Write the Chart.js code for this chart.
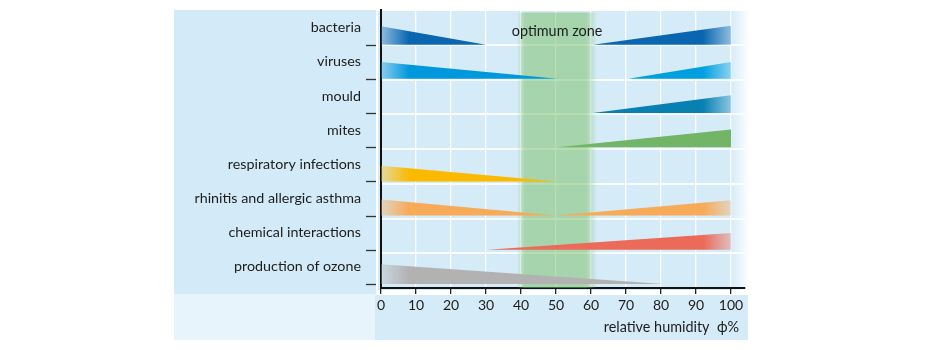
<!DOCTYPE html>
<html>
<head>
<meta charset="utf-8">
<script src="https://cdn.jsdelivr.net/npm/chart.js@4.4.1/dist/chart.umd.min.js"></script>
<style>
  body { margin: 0; background: #fff; }
</style>
</head>
<body>
<canvas id="chart" width="950" height="350"></canvas>
<script>
var rowLabels = [
  'bacteria',
  'viruses',
  'mould',
  'mites',
  'respiratory infections',
  'rhinitis and allergic asthma',
  'chemical interactions',
  'production of ozone'
];
var humidityTicks = [0, 10, 20, 30, 40, 50, 60, 70, 80, 90, 100];
var optimumZone = [40, 60];

// [relative humidity %, size of the effect (share of a row)]
var bacteriaLow = [[0, 0.54], [30, 0]];
var bacteriaHigh = [[60.5, 0], [100, 0.55]];
var virusesLow = [[0, 0.49], [50.4, 0]];
var virusesHigh = [[70.7, 0], [100, 0.49]];
var mouldHigh = [[60.5, 0], [100, 0.52]];
var mitesHigh = [[50.4, 0], [100, 0.52]];
var respiratoryLow = [[0, 0.46], [50.2, 0]];
var rhinitisLow = [[0, 0.47], [50, 0]];
var rhinitisHigh = [[50, 0], [100, 0.45]];
var chemicalHigh = [[30.4, 0], [100, 0.49]];
var ozoneLow = [[0, 0.58], [80.7, 0]];

var wedges = [
  { row: 0, points: bacteriaLow, color: [10, 102, 176], fade: true },
  { row: 0, points: bacteriaHigh, color: [10, 102, 176], fade: true },
  { row: 1, points: virusesLow, color: [0, 152, 220], fade: true },
  { row: 1, points: virusesHigh, color: [0, 160, 224], fade: true },
  { row: 2, points: mouldHigh, color: [8, 128, 178], fade: true },
  { row: 3, points: mitesHigh, color: [114, 181, 102], fade: false },
  { row: 4, points: respiratoryLow, color: [251, 185, 0], fade: true },
  { row: 5, points: rhinitisLow, color: [247, 170, 88], fade: true },
  { row: 5, points: rhinitisHigh, color: [247, 170, 88], fade: true },
  { row: 6, points: chemicalHigh, color: [235, 106, 90], fade: true },
  { row: 7, points: ozoneLow, color: [178, 178, 178], fade: true }
];

var FONT = 'Lato, "Open Sans", sans-serif';
Chart.defaults.font.family = FONT;
Chart.defaults.font.size = 14.3;
Chart.defaults.color = '#1d1d1b';

function rgba(c, a) {
  return 'rgba(' + c[0] + ',' + c[1] + ',' + c[2] + ',' + a + ')';
}

function wedgeFill(w) {
  return function(ctx) {
    var chart = ctx.chart;
    if (!chart.chartArea) return rgba(w.color, 1);
    var x = chart.scales.x;
    var g = chart.ctx.createLinearGradient(x.getPixelForValue(0), 0, x.getPixelForValue(100), 0);
    var end = w.fade ? 0.35 : 1;
    g.addColorStop(0, rgba(w.color, end));
    g.addColorStop(0.08, rgba(w.color, 1));
    g.addColorStop(0.92, rgba(w.color, 1));
    g.addColorStop(1, rgba(w.color, end));
    return g;
  };
}

function zoneFill(ctx) {
  var chart = ctx.chart;
  var green = [118, 190, 98];
  if (!chart.chartArea) return rgba(green, 0.5);
  var x = chart.scales.x;
  var x0 = x.getPixelForValue(optimumZone[0] - 1.2);
  var x1 = x.getPixelForValue(optimumZone[1] + 1.8);
  var g = chart.ctx.createLinearGradient(x0, 0, x1, 0);
  g.addColorStop(0, rgba(green, 0));
  g.addColorStop(0.1, rgba(green, 0.5));
  g.addColorStop(0.86, rgba(green, 0.5));
  g.addColorStop(1, rgba(green, 0));
  return g;
}

var datasets = wedges.map(function(w) {
  return {
    data: w.points.map(function(p) { return { x: p[0], y: w.row + 1 - p[1] }; }),
    yAxisID: 'yw',
    fill: { value: w.row + 1 },
    backgroundColor: wedgeFill(w),
    borderColor: 'rgba(0,0,0,0)',
    borderWidth: 0,
    pointRadius: 0,
    tension: 0,
    order: 0
  };
});

datasets.push({
  data: [{ x: optimumZone[0] - 1.2, y: 0.07 }, { x: optimumZone[1] + 1.8, y: 0.07 }],
  yAxisID: 'y',
  fill: { value: rowLabels.length },
  backgroundColor: zoneFill,
  borderColor: 'rgba(0,0,0,0)',
  borderWidth: 0,
  pointRadius: 0,
  order: 5
});

var panels = {
  id: 'panels',
  beforeDraw: function(chart) {
    var ctx = chart.ctx, a = chart.chartArea, x = chart.scales.x;
    var left = chart.options.layout.padding.left;
    var bottom = chart.height - 10;
    ctx.save();
    // label panel
    ctx.fillStyle = '#d3eaf8';
    ctx.fillRect(left, a.top, a.left - 5 - left, a.bottom + 6 - a.top);
    ctx.fillStyle = '#e7f4fc';
    ctx.fillRect(left, a.bottom + 6, a.left - 5 - left, bottom - a.bottom - 6);
    // plot background fading out to the right
    var r = a.right + 5;
    var g = ctx.createLinearGradient(x.getPixelForValue(100), 0, r, 0);
    g.addColorStop(0, '#d5ebf8');
    g.addColorStop(1, '#ffffff');
    ctx.fillStyle = g;
    ctx.fillRect(a.left - 3, a.top + 1, r - a.left + 3, a.bottom + 2 - a.top - 1);
    // axis title panel
    ctx.fillStyle = '#d5ebf8';
    ctx.fillRect(a.left - 6, a.bottom + 7, a.right + 9 - a.left, bottom - a.bottom - 7);
    ctx.restore();
  },
  afterDraw: function(chart) {
    var ctx = chart.ctx, a = chart.chartArea, x = chart.scales.x, yw = chart.scales.yw;
    ctx.save();
    ctx.fillStyle = '#1d1d1b';
    ctx.font = '14.4px ' + FONT;
    ctx.textAlign = 'center';
    ctx.textBaseline = 'middle';
    ctx.fillText('optimum zone', x.getPixelForValue(50.3), yw.getPixelForValue(0.6));
    ctx.textAlign = 'right';
    ctx.fillText('relative humidity  \u03d5%', x.getPixelForValue(102.3), a.bottom + 39);
    // row ticks on the label panel
    ctx.strokeStyle = '#333';
    ctx.lineWidth = 1.3;
    for (var i = 0; i < rowLabels.length; i++) {
      var y = Math.round(yw.getPixelForValue(i + 1)) + 0.5;
      ctx.beginPath();
      ctx.moveTo(a.left - 15, y);
      ctx.lineTo(a.left - 5, y);
      ctx.stroke();
    }
    ctx.restore();
  }
};

new Chart(document.getElementById('chart'), {
  type: 'line',
  data: { datasets: datasets },
  options: {
    responsive: false,
    animation: false,
    layout: { padding: { left: 174, right: 205, top: 10, bottom: 0 } },
    plugins: { legend: { display: false }, tooltip: { enabled: false } },
    scales: {
      x: {
        type: 'linear',
        position: 'bottom',
        min: 0,
        max: 104,
        afterBuildTicks: function(axis) {
          axis.ticks = humidityTicks.map(function(v) { return { value: v }; });
        },
        afterFit: function(axis) {
          axis.height = 62;
          axis.paddingLeft = axis.paddingRight = 0;
        },
        grid: {
          color: 'rgba(255,255,255,0.9)',
          lineWidth: 1.3,
          tickColor: '#222',
          tickLength: 6,
          tickWidth: 1.3
        },
        border: { color: '#111', width: 2 },
        ticks: { padding: 3, autoSkip: false, maxRotation: 0, font: { size: 14 } }
      },
      y: {
        type: 'linear',
        position: 'right',
        reverse: true,
        min: 0,
        max: rowLabels.length,
        afterBuildTicks: function(axis) {
          axis.ticks = rowLabels.slice(1).map(function(_, i) { return { value: i + 1 }; });
        },
        afterFit: function(axis) {
          axis.width = 0;
          axis.paddingTop = axis.paddingBottom = 0;
        },
        ticks: { display: false },
        grid: { color: 'rgba(255,255,255,0.85)', lineWidth: 2, drawTicks: false },
        border: { display: false }
      },
      yw: {
        type: 'linear',
        position: 'left',
        reverse: true,
        min: -0.0135,
        max: 8.118,
        afterBuildTicks: function(axis) {
          axis.ticks = rowLabels.map(function(_, i) { return { value: i + 0.5 }; });
        },
        afterFit: function(axis) {
          axis.width = 207;
          axis.paddingTop = axis.paddingBottom = 0;
        },
        ticks: {
          padding: 20,
          autoSkip: false,
          callback: function(v, i) { return rowLabels[i]; }
        },
        grid: { drawOnChartArea: false, drawTicks: false },
        border: { color: '#111', width: 2 }
      }
    }
  },
  plugins: [panels]
});
</script>
</body>
</html>
